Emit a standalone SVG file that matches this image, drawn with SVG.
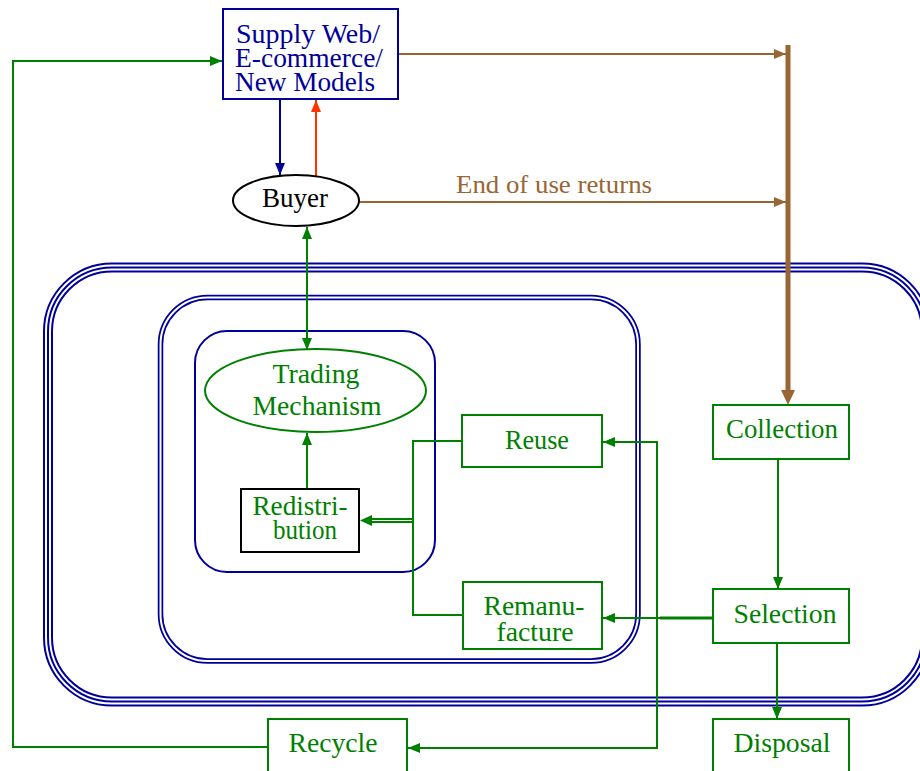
<svg xmlns="http://www.w3.org/2000/svg" width="920" height="771" viewBox="0 0 920 771">
<defs>
<style>
text{font-family:"Liberation Serif","Times New Roman",serif;font-size:28px;text-anchor:middle}
.g{fill:#008000}
.b{fill:#000099}
.k{fill:#000}
.br{fill:#996633}
.gl{stroke:#008000;stroke-width:2;fill:none}
.bl{stroke:#000099;stroke-width:2;fill:none}
.bn{stroke:#996633;stroke-width:2;fill:none}
.gbox{fill:#fff;stroke:#008000;stroke-width:2}
</style>
<marker id="ag" viewBox="0 0 12 10" refX="12" refY="5" markerWidth="12" markerHeight="10" markerUnits="userSpaceOnUse" orient="auto-start-reverse"><path d="M0,0L12,5L0,10z" fill="#008000"/></marker>
<marker id="ab" viewBox="0 0 12 10" refX="12" refY="5" markerWidth="12" markerHeight="10" markerUnits="userSpaceOnUse" orient="auto"><path d="M0,0L12,5L0,10z" fill="#000099"/></marker>
<marker id="ar" viewBox="0 0 12 10" refX="12" refY="5" markerWidth="12" markerHeight="10" markerUnits="userSpaceOnUse" orient="auto"><path d="M0,0L12,5L0,10z" fill="#ff3300"/></marker>
<marker id="an" viewBox="0 0 12 10" refX="12" refY="5" markerWidth="12" markerHeight="10" markerUnits="userSpaceOnUse" orient="auto"><path d="M0,0L12,5L0,10z" fill="#996633"/></marker>
</defs>
<rect width="920" height="771" fill="#fff"/>
<g id="regions">
<rect x="48" y="267.5" width="878" height="434" rx="64" fill="none" stroke="#000099" stroke-width="10"/>
<rect x="48" y="267.5" width="878" height="434" rx="64" fill="none" stroke="#fff" stroke-width="6"/>
<rect x="48" y="267.5" width="878" height="434" rx="64" fill="none" stroke="#000099" stroke-width="2"/>
<rect x="160.5" y="297.5" width="477.5" height="363.5" rx="47" fill="none" stroke="#000099" stroke-width="5.5"/>
<rect x="160.5" y="297.5" width="477.5" height="363.5" rx="47" fill="none" stroke="#fff" stroke-width="2"/>
<rect x="195" y="331" width="240" height="241" rx="32" fill="none" stroke="#000099" stroke-width="2"/>
</g>
<g id="connectors">
<line x1="788" y1="45" x2="788" y2="392" stroke="#996633" stroke-width="5"/>
<path d="M781,390L795,390L788,405z" fill="#996633"/>
<line class="bn" x1="398" y1="54" x2="786" y2="54" marker-end="url(#an)"/>
<line class="bn" x1="359" y1="202" x2="786" y2="202" marker-end="url(#an)"/>
<text class="br" x="554" y="193" textLength="196" lengthAdjust="spacingAndGlyphs" style="font-size:25px">End of use returns</text>
<line class="bl" x1="280" y1="99" x2="280" y2="175" marker-end="url(#ab)"/>
<line x1="316" y1="176" x2="316" y2="100" stroke="#ff3300" stroke-width="2" marker-end="url(#ar)"/>
<line class="gl" x1="307" y1="227" x2="307" y2="350" marker-start="url(#ag)" marker-end="url(#ag)"/>
<line class="gl" x1="307" y1="489" x2="307" y2="433" marker-end="url(#ag)"/>
<line class="gl" x1="778" y1="459" x2="778" y2="589" marker-end="url(#ag)"/>
<line class="gl" x1="777" y1="643" x2="777" y2="719" marker-end="url(#ag)"/>
<line x1="713" y1="618" x2="660" y2="618" stroke="#008000" stroke-width="3"/>
<line class="gl" x1="660" y1="618" x2="603" y2="618" marker-end="url(#ag)"/>
<polyline class="gl" points="657,748 657,442 603,442" marker-end="url(#ag)"/>
<polyline class="gl" points="657,700 657,748 408,748" marker-end="url(#ag)"/>
<polyline class="gl" points="462,441 413,441 413,615 463,615"/>
<line class="gl" x1="413" y1="519" x2="365" y2="519"/>
<line class="gl" x1="413" y1="522" x2="365" y2="522"/>
<path d="M360,520.5L372,515L372,526z" fill="#008000"/>
<polyline class="gl" points="268,747 13,747 13,61 222,61" marker-end="url(#ag)"/>
</g>
<g id="supply">
<rect x="223" y="9" width="175" height="90" fill="#fff" stroke="#000099" stroke-width="2"/>
<text class="b" x="308" y="43" textLength="144" lengthAdjust="spacingAndGlyphs">Supply Web/</text>
<text class="b" x="309" y="67" textLength="148" lengthAdjust="spacingAndGlyphs">E-commerce/</text>
<text class="b" x="305" y="91" textLength="140" lengthAdjust="spacingAndGlyphs">New Models</text>
</g>
<g id="buyer">
<ellipse cx="296" cy="200.5" rx="63" ry="25.5" fill="#fff" stroke="#000" stroke-width="2"/>
<text class="k" x="295" y="207" textLength="66" lengthAdjust="spacingAndGlyphs">Buyer</text>
</g>
<g id="trading">
<ellipse cx="315.5" cy="390.5" rx="110.5" ry="41.5" fill="#fff" stroke="#008000" stroke-width="2"/>
<text class="g" x="316" y="383" textLength="87" lengthAdjust="spacingAndGlyphs">Trading</text>
<text class="g" x="317" y="415" textLength="129" lengthAdjust="spacingAndGlyphs">Mechanism</text>
</g>
<g id="redistribution">
<rect x="241" y="489" width="118" height="63" fill="#fff" stroke="#000" stroke-width="2"/>
<text class="g" x="300" y="515" textLength="95" lengthAdjust="spacingAndGlyphs">Redistri-</text>
<text class="g" x="305" y="539" textLength="64" lengthAdjust="spacingAndGlyphs">bution</text>
</g>
<g id="reuse">
<rect class="gbox" x="462" y="415" width="140" height="52"/>
<text class="g" x="537" y="449" textLength="64" lengthAdjust="spacingAndGlyphs">Reuse</text>
</g>
<g id="remanufacture">
<rect class="gbox" x="463" y="582" width="139" height="67"/>
<text class="g" x="534" y="615" textLength="101" lengthAdjust="spacingAndGlyphs">Remanu-</text>
<text class="g" x="535" y="641" textLength="77" lengthAdjust="spacingAndGlyphs">facture</text>
</g>
<g id="collection">
<rect class="gbox" x="713" y="405" width="136" height="54"/>
<text class="g" x="782" y="438" textLength="112" lengthAdjust="spacingAndGlyphs">Collection</text>
</g>
<g id="selection">
<rect class="gbox" x="713" y="589" width="136" height="54"/>
<text class="g" x="785" y="623" textLength="103" lengthAdjust="spacingAndGlyphs">Selection</text>
</g>
<g id="disposal">
<rect class="gbox" x="713" y="719" width="136" height="60"/>
<text class="g" x="782" y="752" textLength="97" lengthAdjust="spacingAndGlyphs">Disposal</text>
</g>
<g id="recycle">
<rect class="gbox" x="268" y="719" width="139" height="60"/>
<text class="g" x="333" y="752" textLength="89" lengthAdjust="spacingAndGlyphs">Recycle</text>
</g>
</svg>
